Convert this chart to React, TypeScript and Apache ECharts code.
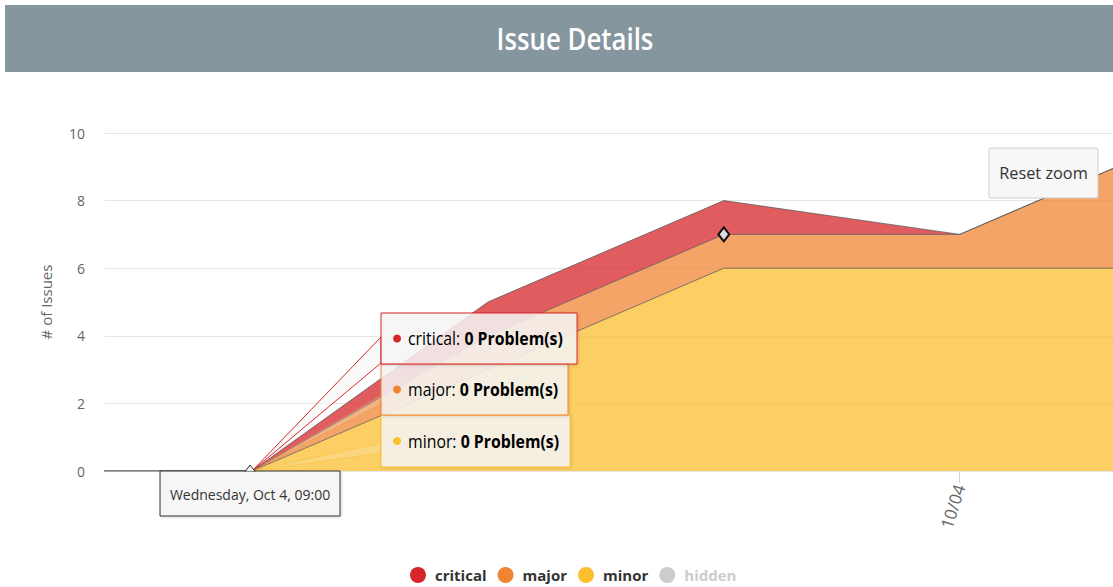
import React, { useEffect, useRef } from "react";
import * as echarts from "echarts";

// ---- data ----
const times = [
  "2017-10-04 08:00",
  "2017-10-04 09:00",
  "2017-10-04 10:00",
  "2017-10-04 11:00",
  "2017-10-04 12:00",
  "2017-10-04 13:00",
];
const minorValues = [0, 0, 3, 6, 6, 6];
const majorValues = [0, 0, 1, 1, 1, 4];
const criticalValues = [0, 0, 1, 1, 0, 0];
const hiddenValues = [0, 0, 0, 0, 0, 0];
const seriesNames = ["critical", "major", "minor", "hidden"];
const yTicks = [0, 2, 4, 6, 8, 10];
const xTickTimes = ["2017-10-04 12:00"];
const xRange = ["2017-10-04 08:22:36", "2017-10-04 12:39:00"];
const hoverIndex = 1;
const markedIndex = 3;

const COLORS: Record<string, string> = {
  critical: "#d7262a",
  major: "#ef8533",
  minor: "#fbbf30",
  hidden: "#cccccc",
};

const ts = (s: string) => {
  const [d, t] = s.split(" ");
  const parts = t.split(":");
  const full = parts.length === 2 ? t + ":00" : t;
  return new Date(d + "T" + full).getTime();
};

const DAYS = ["Sunday", "Monday", "Tuesday", "Wednesday", "Thursday", "Friday", "Saturday"];
const MONTHS = ["Jan", "Feb", "Mar", "Apr", "May", "Jun", "Jul", "Aug", "Sep", "Oct", "Nov", "Dec"];
const pad = (n: number) => (n < 10 ? "0" + n : "" + n);

const FONT = '"Open Sans", "Noto Sans", sans-serif';

function makeSeries(name: string, values: number[], extra: any = {}) {
  return {
    name,
    type: "line",
    stack: "total",
    xAxisIndex: 0,
    yAxisIndex: 0,
    symbol: "none",
    showSymbol: true,
    clip: true,
    silent: true,
    data: values.map((v, i) => [ts(times[i]), v]),
    itemStyle: { color: COLORS[name] },
    lineStyle: { color: "#5a5a5a", width: 1, opacity: 0.75 },
    areaStyle: { color: COLORS[name], opacity: 0.75 },
    emphasis: { disabled: true },
    ...extra,
  };
}

export default function App() {
  const ref = useRef<HTMLDivElement>(null);
  useEffect(() => {
    if (!ref.current) return;
    const chart = echarts.init(ref.current, null, { renderer: "svg" });

    const majorData: any[] = majorValues.map((v, i) => {
      const item: any = { value: [ts(times[i]), v] };
      if (i === markedIndex) {
        item.symbol = "diamond";
        item.symbolSize = [11, 14];
        item.itemStyle = { color: "#dcdcdc", borderColor: "#111", borderWidth: 2 };
      }
      return item;
    });

    const tickVals = xTickTimes.map(ts);

    const option: any = {
      animation: false,
      grid: { left: 105, right: 0, top: 133, bottom: 116, containLabel: false },
      legend: {
        data: seriesNames,
        left: 405,
        top: 562,
        icon: "circle",
        itemWidth: 16,
        itemHeight: 16,
        itemGap: 11,
        selected: { hidden: false },
        inactiveColor: "#cccccc",
        textStyle: {
          fontFamily: FONT,
          fontWeight: "bold",
          fontSize: 15,
          color: "#333333",
          padding: [0, 0, 0, 4],
        },
      },
      xAxis: [
        {
          type: "time",
          min: ts(xRange[0]),
          max: ts(xRange[1]),
          axisLine: { show: false },
          splitLine: { show: false },
          axisTick: { show: false },
          axisLabel: { show: false },
        },
        {
          type: "value",
          position: "bottom",
          min: ts(xRange[0]),
          max: ts(xRange[1]),
          axisLine: { show: false },
          splitLine: { show: false },
          axisTick: {
            show: true,
            customValues: tickVals,
            length: 12,
            lineStyle: { color: "#ccd6eb" },
          },
          axisLabel: {
            customValues: tickVals,
            rotate: 72,
            margin: 14,
            color: "#666666",
            fontFamily: FONT,
            fontSize: 17,
            formatter: (v: number) => {
              const d = new Date(v);
              return pad(d.getMonth() + 1) + "/" + pad(d.getDate());
            },
          },
        },
      ],
      yAxis: {
        type: "value",
        min: yTicks[0],
        max: yTicks[yTicks.length - 1],
        interval: yTicks[1] - yTicks[0],
        name: "# of Issues",
        nameLocation: "middle",
        nameGap: 52,
        nameRotate: 90,
        nameTextStyle: { color: "#666666", fontFamily: FONT, fontSize: 15 },
        axisLine: { show: false },
        axisTick: { show: false },
        axisLabel: { color: "#666666", fontFamily: FONT, fontSize: 14, margin: 20 },
        splitLine: { lineStyle: { color: "#e6e6e6" } },
      },
      series: [
        makeSeries("minor", minorValues),
        makeSeries("major", majorValues, { data: majorData }),
        makeSeries("critical", criticalValues),
        makeSeries("hidden", hiddenValues),
      ],
    };
    chart.setOption(option);

    const p = chart.convertToPixel({ xAxisIndex: 0, yAxisIndex: 0 }, [ts(times[hoverIndex]), 0]) as number[];
    const px = p[0];
    const py = p[1];
    const d = new Date(ts(times[hoverIndex]));
    const dateText = `${DAYS[d.getDay()]}, ${MONTHS[d.getMonth()]} ${d.getDate()}, ${pad(d.getHours())}:${pad(d.getMinutes())}`;

    const tipFill = "rgba(247,247,247,0.85)";
    const boxes = [
      { name: "critical", value: criticalValues[hoverIndex], y: py - 158, h: 51, w: 196, a1: 24, a2: 50, op: 1, fill: "rgba(247,247,247,0.6)" },
      { name: "major", value: majorValues[hoverIndex], y: py - 107, h: 51, w: 187, a1: 31, a2: 40, op: 0.35, fill: "rgba(247,247,247,0.2)" },
      { name: "minor", value: minorValues[hoverIndex], y: py - 56, h: 52, w: 189, a1: 28, a2: 38, op: 0.5, fill: "rgba(247,247,247,0.2)" },
    ];
    const bx = px + 129;
    const graphics: any[] = [
      {
        type: "rect",
        z: 1,
        shape: { x: 5, y: 5, width: 1108, height: 67 },
        style: { fill: "#85969f" },
      },
      {
        type: "text",
        z: 2,
        x: 575,
        y: 38,
        scaleX: 0.86,
        style: {
          text: "Issue Details",
          fill: "#ffffff",
          font: `600 30px ${FONT}`,
          align: "center",
          verticalAlign: "middle",
        },
      },
    ];
    [...boxes].reverse().forEach((b) => {
      graphics.push({
        type: "polygon",
        z: 60,
        shape: {
          points: [
            [bx, b.y + b.a1],
            [px, py],
            [bx, b.y + b.a2],
          ],
        },
        style: { fill: b.fill, stroke: COLORS[b.name], lineWidth: 1, strokeOpacity: b.op },
      });
    });
    [...boxes].reverse().forEach((b) => {
      graphics.push({
        type: "rect",
        z: 61,
        shape: { x: bx, y: b.y, width: b.w, height: b.h, r: 0 },
        style: {
          fill: tipFill,
          stroke: COLORS[b.name],
          lineWidth: 1,
          shadowBlur: 3,
          shadowOffsetX: 1,
          shadowOffsetY: 1,
          shadowColor: "rgba(0,0,0,0.15)",
        },
      });
      graphics.push({
        type: "circle",
        z: 62,
        shape: { cx: bx + 16, cy: b.y + b.h / 2, r: 4 },
        style: { fill: COLORS[b.name] },
      });
      graphics.push({
        type: "text",
        z: 62,
        x: bx + 27,
        y: b.y + b.h / 2,
        scaleX: 0.88,
        style: {
          text: `{n|${b.name}: }{b|${b.value} Problem(s)}`,
          verticalAlign: "middle",
          align: "left",
          rich: {
            n: { fontFamily: FONT, fontSize: 18, color: "#333333" },
            b: { fontFamily: FONT, fontSize: 18, fontWeight: "bold", color: "#333333" },
          },
        },
      });
    });
    graphics.push({
      type: "rect",
      z: 61,
      shape: { x: px - 92, y: py, width: 180, height: 45 },
      style: {
        fill: tipFill,
        stroke: "#333333",
        lineWidth: 1,
        shadowBlur: 3,
        shadowOffsetX: 1,
        shadowOffsetY: 1,
        shadowColor: "rgba(0,0,0,0.15)",
      },
    });
    graphics.push({
      type: "polygon",
      z: 62,
      shape: { points: [[px - 7, py + 0.5], [px - 2, py - 6], [px + 3, py + 0.5]] },
      style: { fill: tipFill, stroke: "#333333", lineWidth: 1 },
    });
    graphics.push({
      type: "rect",
      z: 63,
      shape: { x: px - 6.5, y: py + 0.5, width: 9, height: 1.5 },
      style: { fill: "#f7f7f7" },
    });
    graphics.push({
      type: "text",
      z: 63,
      x: px - 2,
      y: py + 23,
      style: {
        text: dateText,
        fill: "#333333",
        font: `14px ${FONT}`,
        align: "center",
        verticalAlign: "middle",
      },
    });
    graphics.push({
      type: "rect",
      z: 70,
      shape: { x: 989, y: 148, width: 109, height: 50, r: 2 },
      style: { fill: "#f7f7f7", stroke: "#cccccc", lineWidth: 1 },
    });
    graphics.push({
      type: "text",
      z: 71,
      x: 1043.5,
      y: 172,
      scaleX: 0.96,
      style: {
        text: "Reset zoom",
        fill: "#333333",
        font: `17px ${FONT}`,
        align: "center",
        verticalAlign: "middle",
      },
    });

    chart.setOption({ graphic: graphics });
    return () => chart.dispose();
  }, []);
  return <div ref={ref} style={{ position: "absolute", left: 0, top: 0, width: 1113, height: 587 }} />;
}
